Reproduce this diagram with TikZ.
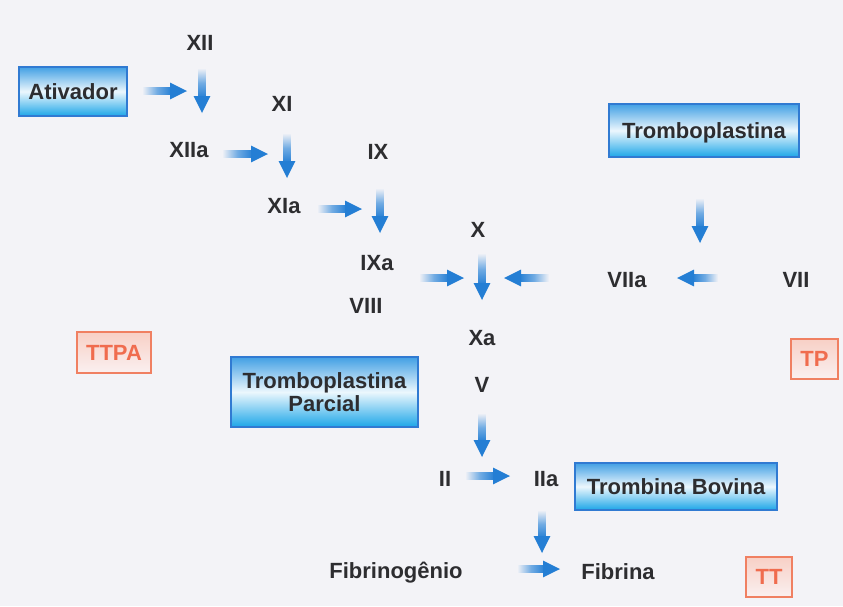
\documentclass[tikz,border=0pt]{standalone}
\usepackage{fontspec}
\setmainfont{Liberation Sans}
\usetikzlibrary{calc}

\definecolor{paper}{RGB}{243,243,247}
\definecolor{ink}{RGB}{45,45,48}
\definecolor{flowblue}{RGB}{36,126,212}
\definecolor{boxedge}{RGB}{48,122,210}
\definecolor{boxtop}{RGB}{66,160,228}
\definecolor{boxmid}{RGB}{236,247,253}
\definecolor{boxbot}{RGB}{28,166,232}
\definecolor{testedge}{RGB}{240,128,98}
\definecolor{testtop}{RGB}{248,208,198}
\definecolor{testbot}{RGB}{250,240,240}
\definecolor{testink}{RGB}{240,108,78}

\tikzset{
  factor/.style={text=ink, font=\fontsize{22}{23}\selectfont\bfseries,
    anchor=base, inner sep=0pt},
  reagent/.style={draw=boxedge, line width=1.5pt,
    top color=boxtop, bottom color=boxbot, middle color=boxmid,
    text=ink, font=\fontsize{22}{23}\selectfont\bfseries,
    inner sep=0pt, text depth=0pt, align=center},
  testbox/.style={draw=testedge, line width=1.5pt,
    top color=testtop, bottom color=testbot,
    text=testink, font=\fontsize{22}{23}\selectfont\bfseries, inner sep=0pt},
}

% Faded arrows: a shaft shaded from the paper colour to blue, and a solid head.
\newcommand{\flowright}[2]{%
  \shade[left color=paper, right color=flowblue, middle color=flowblue!65]
    ($(#1)+(0,-3.4)$) rectangle ($(#2)+(-15,3.4)$);
  \fill[flowblue] (#2) -- ($(#2)+(-17,-8.4)$) -- ($(#2)+(-17,8.4)$) -- cycle;}
\newcommand{\flowleft}[2]{%
  \shade[left color=flowblue, right color=paper, middle color=flowblue!65]
    ($(#1)+(0,-3.4)$) rectangle ($(#2)+(15,3.4)$);
  \fill[flowblue] (#2) -- ($(#2)+(17,-8.4)$) -- ($(#2)+(17,8.4)$) -- cycle;}
\newcommand{\flowdown}[2]{%
  \shade[top color=paper, bottom color=flowblue, middle color=flowblue!65]
    ($(#1)+(-3.4,0)$) rectangle ($(#2)+(3.4,-15)$);
  \fill[flowblue] (#2) -- ($(#2)+(-8.4,-17)$) -- ($(#2)+(8.4,-17)$) -- cycle;}

\begin{document}
\begin{tikzpicture}[x=1pt, y=-1pt]
  \fill[paper] (0,0) rectangle (843,606);
  \useasboundingbox (0,0) rectangle (843,606);

  % reagents
  \node[reagent, minimum width=108pt, minimum height=49pt] (ativador) at (73,91.5) {Ativador};
  \node[reagent, minimum width=190pt, minimum height=53pt] (trombo) at (704,130.5) {Tromboplastina};
  \node[reagent, minimum width=187pt, minimum height=70pt] (parcial) at (324.5,392) {Tromboplastina\\Parcial};
  \node[reagent, minimum width=202pt, minimum height=47pt] (bovina) at (676,486.5) {Trombina Bovina};

  % tests
  \node[testbox, minimum width=74pt, minimum height=41pt] (ttpa) at (114,352.5) {TTPA};
  \node[testbox, minimum width=47pt, minimum height=40pt] (tp) at (814.5,359) {TP};
  \node[testbox, minimum width=46pt, minimum height=40pt] (tt) at (769,577) {TT};

  % clotting factors
  \node[factor] (xii)  at (200,50)  {XII};
  \node[factor] (xi)   at (282,111) {XI};
  \node[factor] (xiia) at (189,157) {XIIa};
  \node[factor] (ix)   at (378,159) {IX};
  \node[factor] (xia)  at (284,213) {XIa};
  \node[factor] (ixa)  at (377,270) {IXa};
  \node[factor] (x)    at (478,237) {X};
  \node[factor] (viia) at (627,287) {VIIa};
  \node[factor] (vii)  at (796,287) {VII};
  \node[factor] (viii) at (366,313) {VIII};
  \node[factor] (xa)   at (482,345) {Xa};
  \node[factor] (v)    at (482,392) {V};
  \node[factor] (ii)   at (445,486) {II};
  \node[factor] (iia)  at (546,486) {IIa};
  \node[factor] (fibrinogenio) at (396,578) {Fibrinogênio};
  \node[factor] (fibrina) at (618,579) {Fibrina};

  % arrow ends
  \coordinate (ativ-t) at (142,91);  \coordinate (ativ-h) at (187,91);
  \coordinate (xii-t)  at (202,68);  \coordinate (xii-h)  at (202,113);
  \coordinate (xiia-t) at (222,154); \coordinate (xiia-h) at (268,154);
  \coordinate (xi-t)   at (287,133); \coordinate (xi-h)   at (287,178);
  \coordinate (xia-t)  at (317,209); \coordinate (xia-h)  at (362,209);
  \coordinate (ix-t)   at (380,188); \coordinate (ix-h)   at (380,233);
  \coordinate (tromb-t) at (700,198); \coordinate (tromb-h) at (700,243);
  \coordinate (ixa-t)  at (419,278); \coordinate (ixa-h)  at (464,278);
  \coordinate (x-t)    at (482,253); \coordinate (x-h)    at (482,300);
  \coordinate (viia-t) at (549,278); \coordinate (viia-h) at (504,278);
  \coordinate (vii-t)  at (718,278); \coordinate (vii-h)  at (677,278);
  \coordinate (v-t)    at (482,413); \coordinate (v-h)    at (482,457);
  \coordinate (ii-t)   at (465,476); \coordinate (ii-h)   at (510,476);
  \coordinate (iia-t)  at (542,510); \coordinate (iia-h)  at (542,553);
  \coordinate (fbg-t)  at (517,569); \coordinate (fbg-h)  at (560,569);

  % cascade arrows
  \flowright{ativ-t}{ativ-h}
  \flowdown{xii-t}{xii-h}
  \flowright{xiia-t}{xiia-h}
  \flowdown{xi-t}{xi-h}
  \flowright{xia-t}{xia-h}
  \flowdown{ix-t}{ix-h}
  \flowdown{tromb-t}{tromb-h}
  \flowright{ixa-t}{ixa-h}
  \flowdown{x-t}{x-h}
  \flowleft{viia-t}{viia-h}
  \flowleft{vii-t}{vii-h}
  \flowdown{v-t}{v-h}
  \flowright{ii-t}{ii-h}
  \flowdown{iia-t}{iia-h}
  \flowright{fbg-t}{fbg-h}
\end{tikzpicture}
\end{document}
